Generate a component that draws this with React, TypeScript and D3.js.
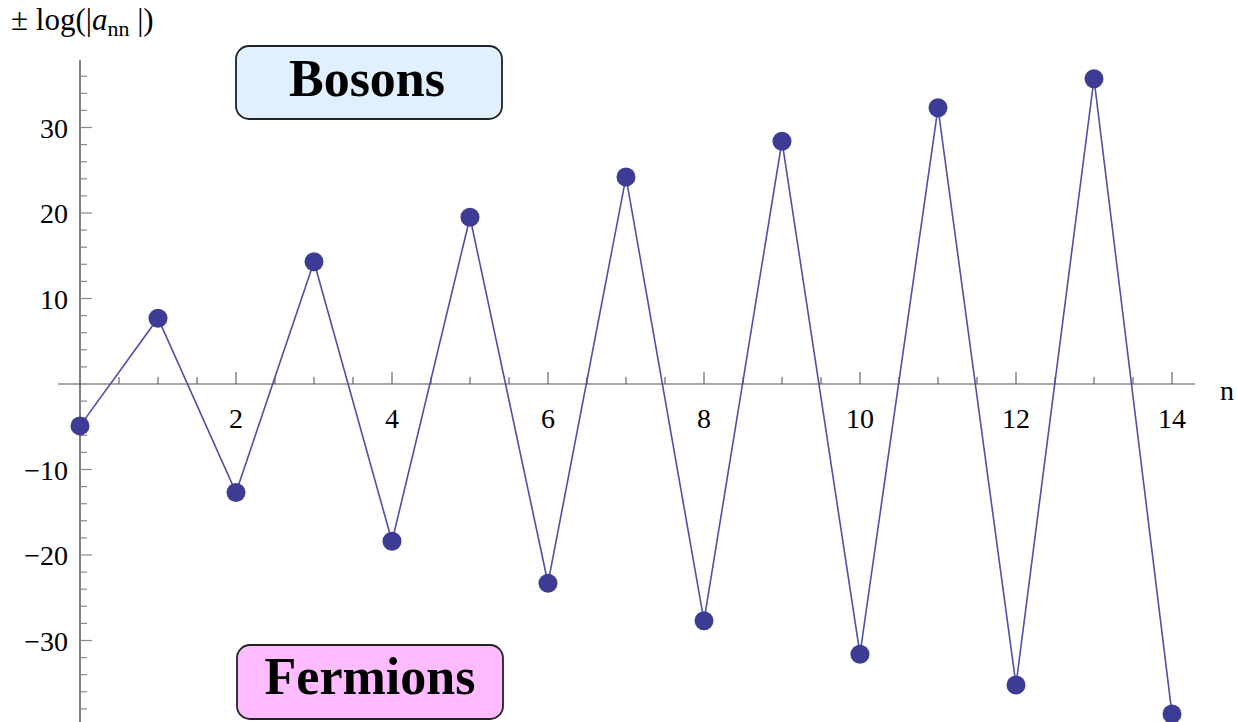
import React from "react";
import * as d3 from "d3";

// ± log(|a_nn|) against n
const nValues = [0, 1, 2, 3, 4, 5, 6, 7, 8, 9, 10, 11, 12, 13, 14];
const logValues = [-4.9, 7.7, -12.7, 14.3, -18.4, 19.5, -23.3, 24.2, -27.7, 28.4, -31.6, 32.3, -35.2, 35.7, -38.6];
const xTickLabels = [2, 4, 6, 8, 10, 12, 14];
const yTickLabels = [-30, -20, -10, 10, 20, 30];

const W = 1237;
const H = 722;
const SERIF = "'Liberation Serif', 'Times New Roman', serif";

export default function App() {
  const x = d3.scaleLinear().domain([0, 14]).range([80, 1172]);
  const y = d3.scaleLinear().domain([-30, 30]).range([640.5, 127.5]);

  const xMinor = d3.range(0.5, 14.01, 0.5).filter((v) => v % 2 !== 0);
  const yMinor = d3.range(-38, 37, 2).filter((v) => v % 10 !== 0);

  const line = d3
    .line<number>()
    .x((_, i) => x(nValues[i]))
    .y((d) => y(d));

  const fmt = (v: number) => (v < 0 ? "\u2212" + Math.abs(v) : String(v));

  return (
    <div style={{ position: "absolute", left: 0, top: 0 }}>
      <svg width={W} height={H} style={{ display: "block", background: "#fff" }}>
        {/* x axis */}
        <line x1={58} x2={1195} y1={y(0)} y2={y(0)} stroke="#8a8a8a" strokeWidth={1.5} />
        {xMinor.map((v) => (
          <line key={"xm" + v} x1={x(v)} x2={x(v)} y1={y(0)} y2={y(0) - 7} stroke="#666" strokeWidth={1.2} />
        ))}
        {xTickLabels.map((v) => (
          <g key={"xt" + v}>
            <line x1={x(v)} x2={x(v)} y1={y(0)} y2={y(0) - 12} stroke="#666" strokeWidth={1.2} />
            <text x={x(v)} y={y(0) + 44} textAnchor="middle" fontFamily={SERIF} fontSize={28} fill="#000">
              {v}
            </text>
          </g>
        ))}
        <text x={1220} y={400} fontFamily={SERIF} fontSize={28} fill="#000">
          n
        </text>

        {/* y axis */}
        <line x1={x(0)} x2={x(0)} y1={60} y2={H} stroke="#555" strokeWidth={1.5} />
        {yMinor.map((v) => (
          <line key={"ym" + v} x1={x(0)} x2={x(0) + 7} y1={y(v)} y2={y(v)} stroke="#888" strokeWidth={1.2} />
        ))}
        {yTickLabels.map((v) => (
          <g key={"yt" + v}>
            <line x1={x(0)} x2={x(0) + 12} y1={y(v)} y2={y(v)} stroke="#888" strokeWidth={1.2} />
            <text x={68} y={y(v) + 10} textAnchor="end" fontFamily={SERIF} fontSize={28} fill="#000">
              {fmt(v)}
            </text>
          </g>
        ))}
        <text x={11} y={30} fontFamily={SERIF} fontSize={31} fill="#000">
          ± log(|<tspan fontStyle="italic">a</tspan>
          <tspan fontSize={22} dy={6}>nn</tspan>
          <tspan dy={-6}> |)</tspan>
        </text>

        {/* series */}
        <path d={line(logValues) || ""} fill="none" stroke="#4f4fa6" strokeWidth={1.6} />
        {logValues.map((v, i) => (
          <circle key={"p" + i} cx={x(nValues[i])} cy={y(v)} r={9.5} fill="#3c3c94" />
        ))}

        {/* labels */}
        <rect x={236} y={46} width={266} height={73} rx={13} ry={13} fill="#e0f0ff" stroke="#222" strokeWidth={1.8} />
        <text x={367} y={96} textAnchor="middle" fontFamily={SERIF} fontWeight="bold" fontSize={52} fill="#000">
          Bosons
        </text>
        <rect x={237} y={645} width={266} height={74} rx={13} ry={13} fill="#ffbbff" stroke="#222" strokeWidth={1.8} />
        <text x={370} y={694} textAnchor="middle" fontFamily={SERIF} fontWeight="bold" fontSize={52} fill="#000">
          Fermions
        </text>
      </svg>
    </div>
  );
}
